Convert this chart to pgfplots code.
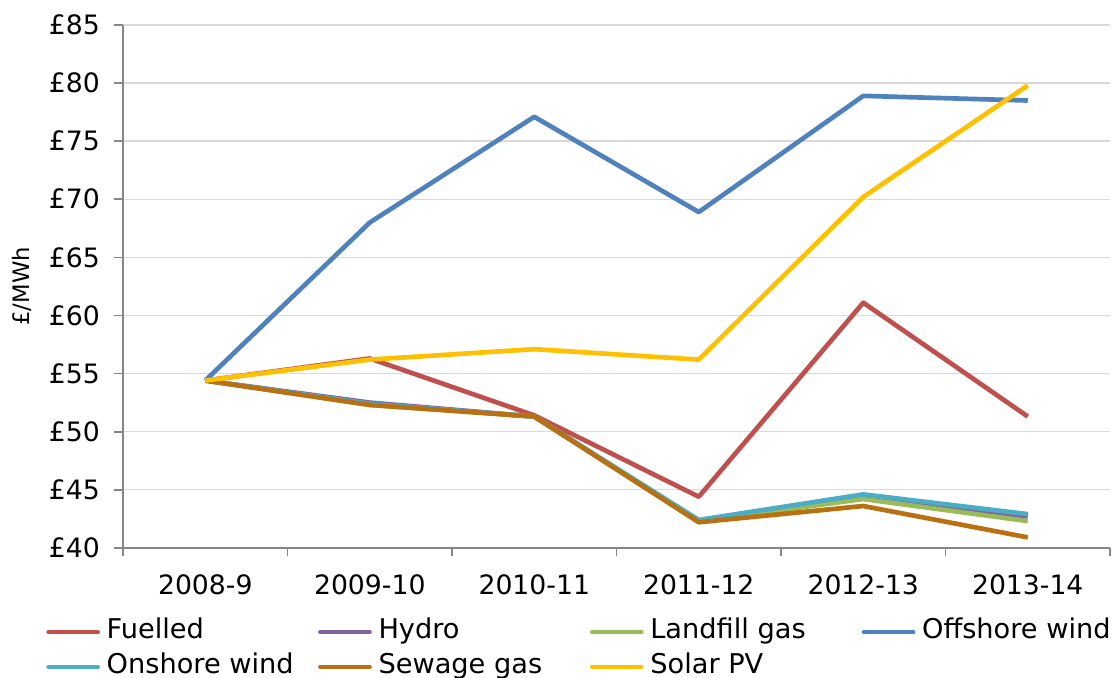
\documentclass[border=0pt]{standalone}
\usepackage{pgfplots}
\pgfplotsset{compat=1.18}
\usepackage{fontspec}
\setmainfont{DejaVu Sans}
\definecolor{cFuel}{HTML}{C0504D}
\definecolor{cHydro}{HTML}{8064A2}
\definecolor{cLand}{HTML}{9BBB59}
\definecolor{cOff}{HTML}{4F81BD}
\definecolor{cOn}{HTML}{4BACC6}
\definecolor{cSew}{RGB}{184,112,16}
\definecolor{cSolar}{HTML}{FFC000}
\definecolor{cAxis}{HTML}{868686}
\definecolor{cGrid}{HTML}{D9D9D9}
\begin{document}
\begin{tikzpicture}
\begin{axis}[
  name=ax,
  scale only axis,
  width=740pt, height=392pt,
  xmin=-0.5, xmax=5.5, ymin=40, ymax=85,
  axis x line*=bottom, axis y line*=left,
  axis line style={cAxis, line width=1.3pt, -},
  xtick={0,...,5},
  xticklabels={2008-9,2009-10,2010-11,2011-12,2012-13,2013-14},
  minor xtick={-0.5,0.5,...,5.5},
  major x tick style={draw=none},
  ytick={40,45,...,85},
  yticklabel={£\pgfmathprintnumber{\tick}},
  /pgf/number format/assume math mode=true,
  tick align=outside,
  major tick length=6.75pt,
  minor tick length=6pt,
  tick style={cAxis, line width=1.3pt},
  ymajorgrids,
  major grid style={cGrid, line width=1.1pt},
  tick label style={font=\fontsize{20}{24}\selectfont, black},
  yticklabel style={inner sep=0pt, anchor=east, xshift=-10.5pt},
  xticklabel style={inner sep=0pt, anchor=north, yshift=-13pt},
  ylabel={£/MWh},
  ylabel style={font=\fontsize{17}{20}\selectfont, at={(axis description cs:-0.1024,0.5)}, anchor=center},
  legend columns=4,
  legend cell align=left,
  legend style={draw=none, fill=none, at={(axis description cs:0,0)}, anchor=north west,
    xshift=-57.75pt, yshift=-53.5pt, inner sep=0pt, row sep=7pt,
    font=\fontsize{20.4}{24}\selectfont,
    nodes={inner sep=0pt, text height=14.5pt, text depth=4.5pt},
    /tikz/every odd column/.append style={column sep=5pt}},
  legend image code/.code={\draw[line width=3.3pt, line cap=round] (0pt,0pt) -- (37pt,0pt);},
  every axis plot/.append style={line width=3.5pt, line join=round, mark=none},
]
\addplot[cFuel] coordinates {(0,54.4) (1,56.3) (2,51.4) (3,44.4) (4,61.1) (5,51.3)};
\addlegendentry{\makebox[158.5pt][l]{Fuelled}}
\addplot[cHydro] coordinates {(0,54.4) (1,52.5) (2,51.3) (3,42.3) (4,44.4) (5,42.7)};
\addlegendentry{\makebox[158.5pt][l]{Hydro}}
\addplot[cLand] coordinates {(0,54.4) (1,52.3) (2,51.3) (3,42.3) (4,44.2) (5,42.3)};
\addlegendentry{\makebox[158.5pt][l]{Landfill gas}}
\addplot[cOff] coordinates {(0,54.4) (1,68.0) (2,77.1) (3,68.9) (4,78.9) (5,78.5)};
\addlegendentry{Offshore wind}
\addplot[cOn] coordinates {(0,54.4) (1,52.4) (2,51.3) (3,42.4) (4,44.6) (5,42.9)};
\addlegendentry{\makebox[158.5pt][l]{Onshore wind}}
\addplot[cSew] coordinates {(0,54.4) (1,52.3) (2,51.3) (3,42.2) (4,43.6) (5,40.9)};
\addlegendentry{\makebox[158.5pt][l]{Sewage gas}}
\addplot[cSolar] coordinates {(0,54.4) (1,56.2) (2,57.1) (3,56.2) (4,70.2) (5,79.8)};
\addlegendentry{\makebox[158.5pt][l]{Solar PV}}
\end{axis}
\pgfresetboundingbox
\path[use as bounding box] ([shift={(-92.25pt,-97.5pt)}]ax.south west) rectangle ([shift={(6pt,18.75pt)}]ax.north east);
\end{tikzpicture}
\end{document}
